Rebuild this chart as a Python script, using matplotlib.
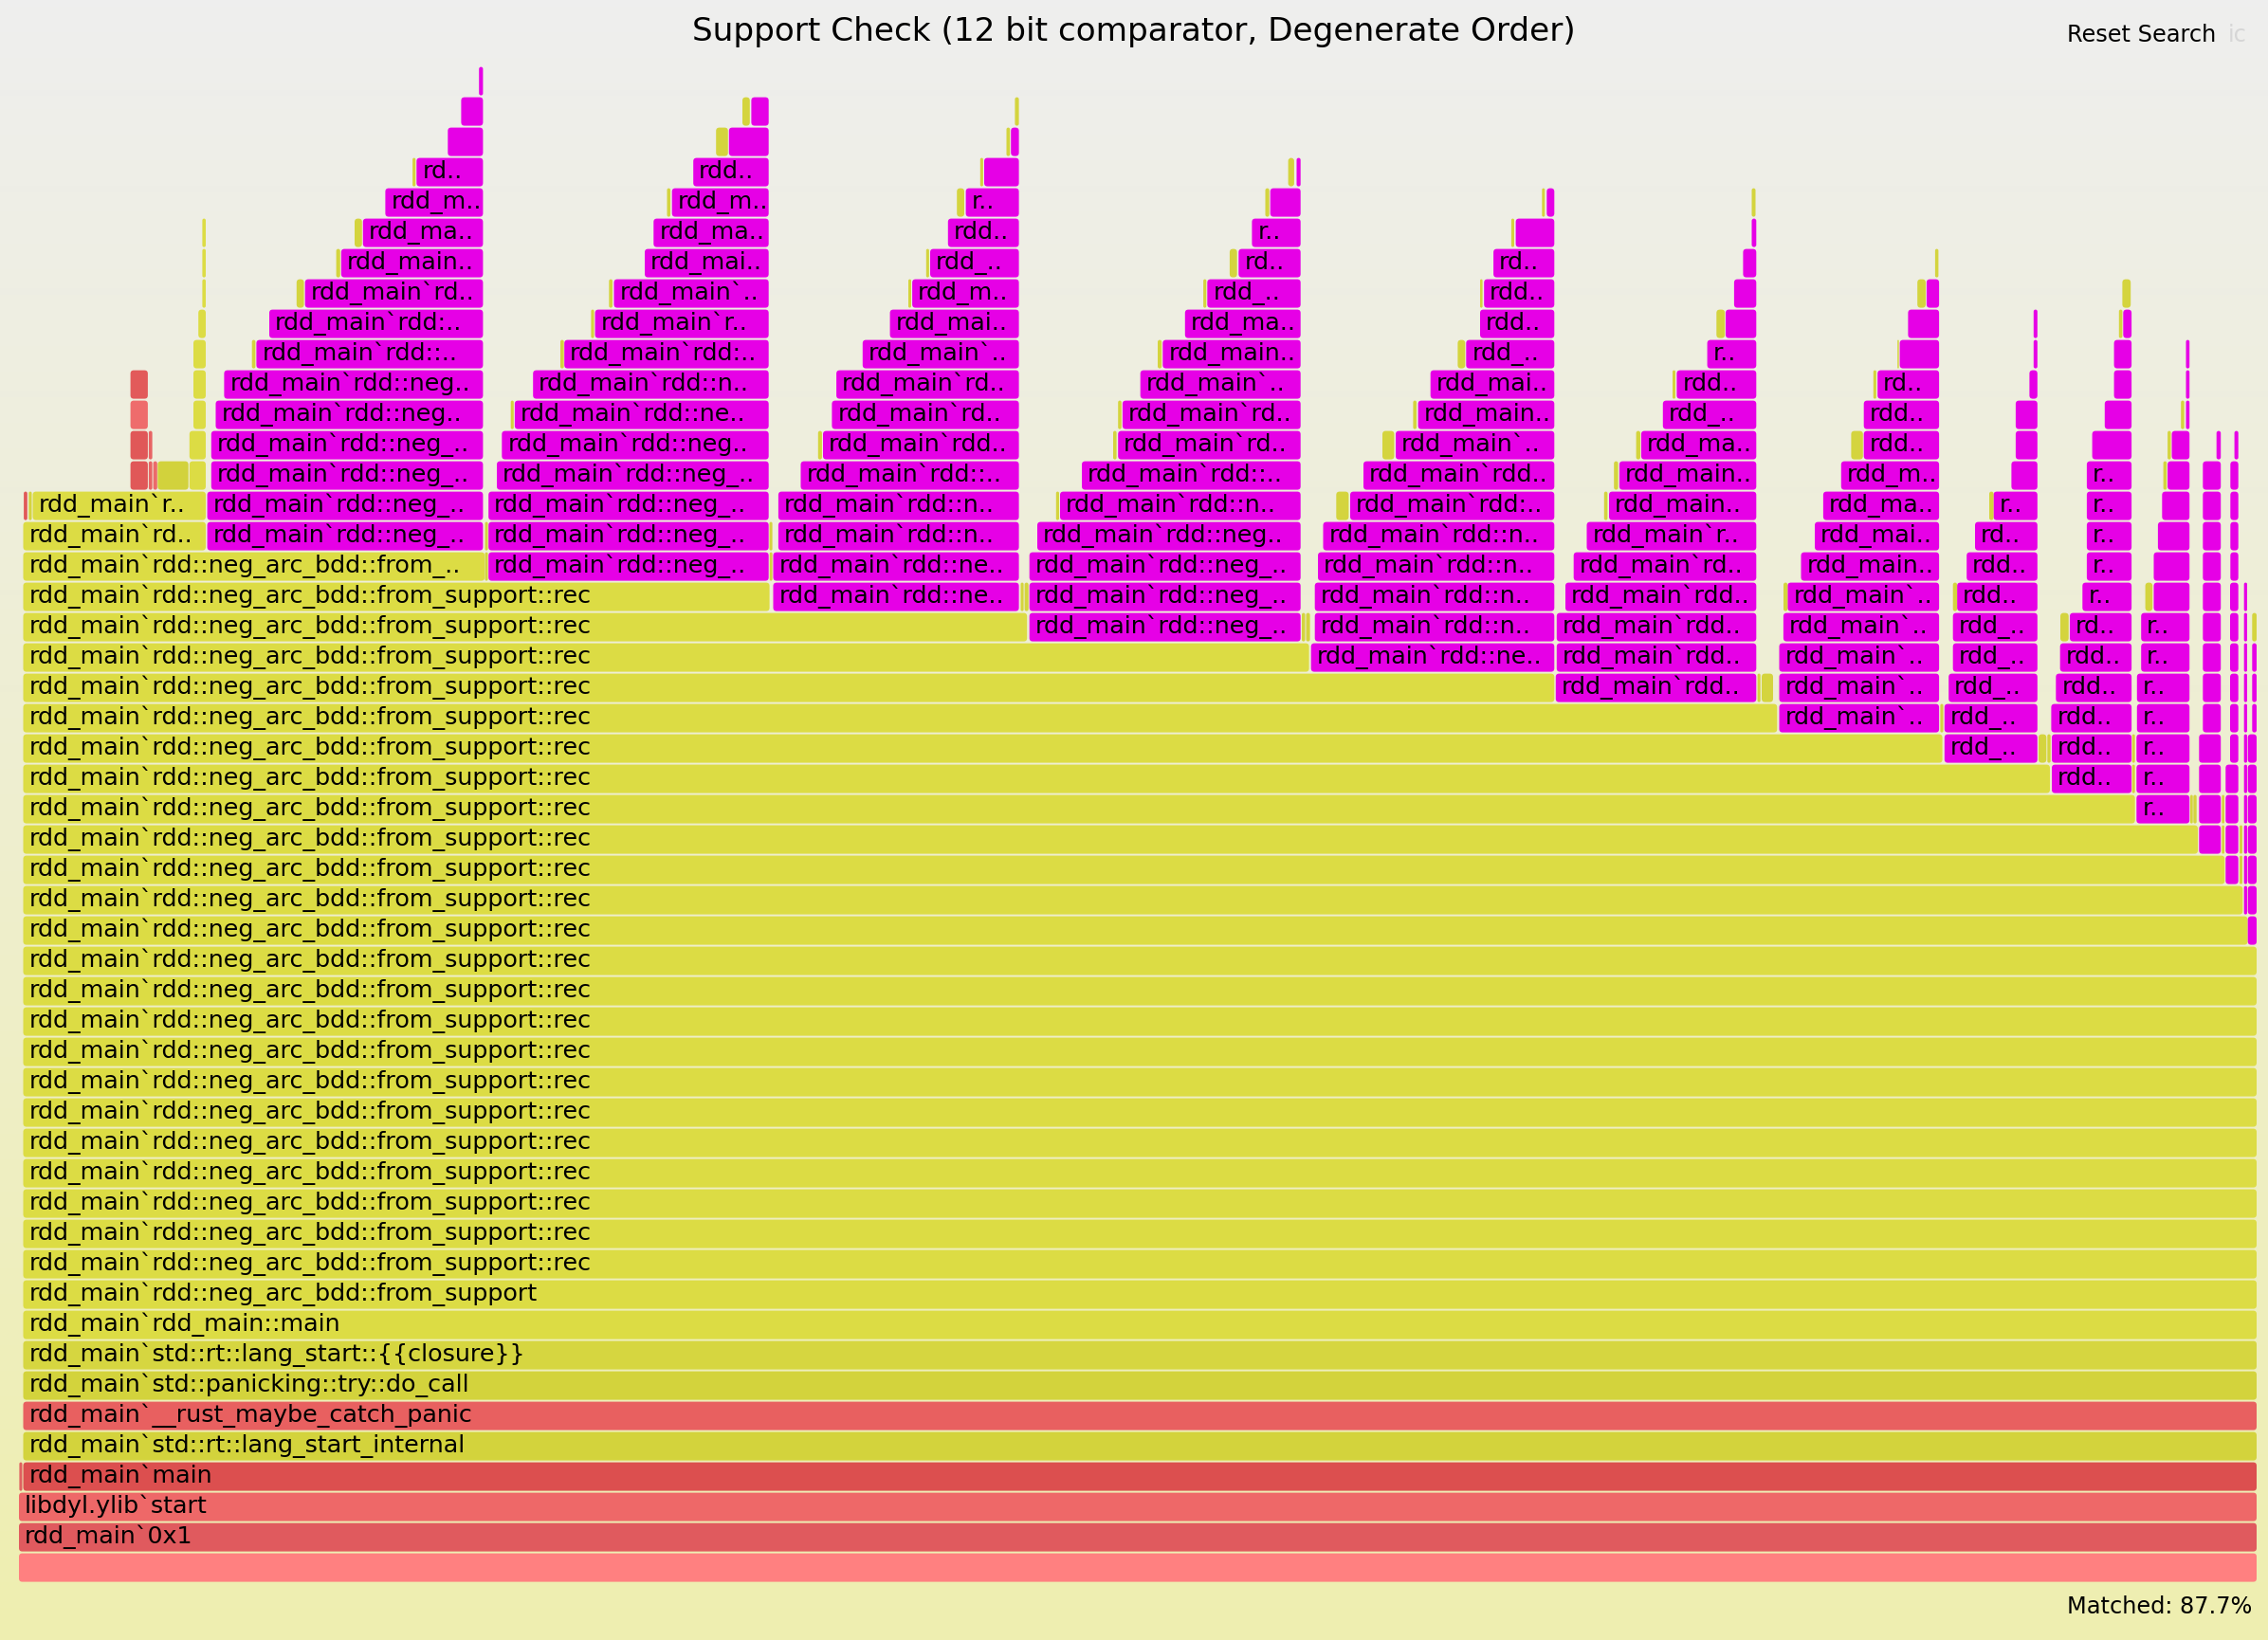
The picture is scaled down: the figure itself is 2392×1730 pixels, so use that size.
import numpy as np
import matplotlib
matplotlib.use("Agg")
import matplotlib.pyplot as plt
from matplotlib.patches import FancyBboxPatch

# ---- data (x in samples, 2360 samples in total; depth = stack level) ----
total_samples = 2360

base_names = ["", "rdd_main`0x1", "libdyl.ylib`start", "rdd_main`main",
              "rdd_main`std::rt::lang_start_internal",
              "rdd_main`__rust_maybe_catch_panic",
              "rdd_main`std::panicking::try::do_call",
              "rdd_main`std::rt::lang_start::{{closure}}",
              "rdd_main`rdd_main::main",
              "rdd_main`rdd::neg_arc_bdd::from_support"]
base_start = [0, 0, 0, 4.5, 4.5, 4.5, 4.5, 4.5, 4.5, 4.5]
base_colors = ["#ff8080", "#e05a5e", "#ee6868", "#dc4f4f", "#d3d33c",
               "#e86060", "#d3d33c", "#d6d640", "#dcdc44", "#dcdc44"]

rec_name = "rdd_main`rdd::neg_arc_bdd::from_support::rec"
rec_depths = list(range(10, 45))
rec_start = [4.5, 4.5, 4.5, 4.5, 4.5, 4.5, 4.5, 4.5, 4.5, 4.5, 4.5, 4.5, 4.5,
             4.5, 4.5, 4.5, 4.5, 4.5, 4.5, 4.5, 4.5, 4.5, 4.5, 4.5, 4.5,
             14.5, 179.8, 179.8, 184, 184, 184, 189.2, 193.4, 193.4, 193.4]
rec_end = [2360, 2360, 2360, 2360, 2360, 2360, 2360, 2360, 2360, 2360, 2360,
           2350.5, 2345.3, 2326.3, 2298, 2231.7, 2142, 2028.6, 1854.3,
           1619.3, 1360.6, 1063.2, 791.6, 491.2,
           197, 197, 197, 197, 197, 197, 197, 197, 197, 197, 197]

# search-matched towers: base depth, right edge, left edge per level
match_name = "rdd_main`rdd::neg_arc_bdd::from_support::rec::{{closure}}"
tower_base = [34, 33, 32, 31, 30, 29, 28, 27, 26, 25, 24, 23, 22, 21]
tower_right = [489.4, 790.7, 1054.6, 1351.7, 1619.3, 1832.3, 2025.1, 2128.8,
               2228.1, 2289.2, 2322.2, 2340.7, 2350, 2360]
tower_lefts = [
    [198.6, 198.6, 202.8, 202.8, 207.5, 216.4, 250.4, 264, 301.7, 339.8,
     362.8, 386.4, 419.3, 452.3, 466.4, 485.2],
    [495.2, 495.2, 495.2, 504, 509.3, 522.9, 542.2, 575.2, 607.6, 627.5,
     660, 669.3, 688.7, 711.2, 748.8, 772.4],
    [795.5, 795.5, 800.9, 800.9, 824.5, 848, 857.4, 862.1, 889.8, 918.6,
     942.1, 961, 979.8, 998.6, 1018, 1046.2],
    [1065.7, 1065.7, 1065.7, 1074, 1098, 1121, 1159.2, 1163.9, 1182.7,
     1206.3, 1229.8, 1253.3, 1286.3, 1300.4, 1319.7, 1347.5],
    [1362.7, 1366.7, 1366.7, 1370, 1375.5, 1404, 1418, 1452, 1475.6, 1488.7,
     1526.3, 1541, 1545.2, 1555.1, 1578.6, 1611.3],
    [1620.8, 1621.8, 1621.8, 1631, 1639.7, 1653.5, 1677, 1687.9, 1710.9,
     1733.8, 1748.4, 1780.6, 1800, 1808.9, 1818.4, 1827.5],
    [1856.5, 1856.5, 1856.5, 1860.9, 1865.3, 1879.5, 1894, 1902.9, 1921.8,
     1945.7, 1945.7, 1960.2, 1983.6, 1992.4, 2011.9],
    [2030.8, 2030.8, 2035.2, 2039.7, 2039.7, 2044.1, 2054.2, 2063, 2082.5,
     2101.4, 2105.9, 2105.9, 2120.4, 2124.8, 2124.8],
    [2144, 2144, 2143.4, 2148.3, 2152.7, 2163, 2176.3, 2180.9, 2180.9,
     2180.9, 2180.9, 2186.6, 2199.8, 2209.6, 2209.6, 2219.3],
    [2233.3, 2233.3, 2233.3, 2233.8, 2233.8, 2238.2, 2238.2, 2251.5, 2251.5,
     2255.9, 2260.3, 2266.1, 2270.5, 2285.5, 2285.5, 2285.5],
    [2299.3, 2299.3, 2299.3, 2299.3, 2303.3, 2303.3, 2303.3, 2303.3, 2303.3,
     2303.3, 2303.3, 2303.3, 2303.3, 2317.7],
    [2327.3, 2327.3, 2327.3, 2327.3, 2332, 2332, 2332, 2332, 2332, 2332,
     2332.3, 2332.3, 2332.3, 2332.3, 2336.6],
    [2346.7, 2346.7, 2346.7, 2346.7, 2346.7, 2346.7, 2346.7, 2346.7, 2346.7,
     2346.7, 2346.7],
    [2350.7, 2350.7, 2350.7, 2350.7, 2350.7, 2350.7, 2350.7, 2355.3, 2355.3,
     2355.3],
]

# unmatched small frames (depth, start, end)
other_frames = [
    (35, 10.3, 13.5), (33, 491.5, 494.6), (34, 491.5, 494.6),
    (40, 245.7, 249.4), (42, 292.8, 300.6), (43, 334.6, 338.8),
    (44, 354, 361.8), (46, 415.1, 418.3),
    (38, 518.7, 521.8), (40, 571, 574.7), (41, 603.4, 606.6),
    (42, 622.3, 626), (45, 683.5, 687.1), (47, 735.2, 747.8),
    (48, 763, 770.8),
    (33, 791.7, 794.6), (34, 791.5, 794.6), (37, 842.8, 846.9),
    (42, 938, 941), (43, 956.8, 959.9), (45, 989.2, 997),
    (46, 1013.8, 1016.9), (47, 1041.5, 1045.2), (48, 1050.4, 1054.6),
    (32, 1056.5, 1059.6), (32, 1060.6, 1064.7),
    (35, 1093.8, 1097), (37, 1154, 1157.6), (38, 1159.2, 1162.8),
    (40, 1201, 1205.2), (42, 1249.1, 1252.3), (43, 1276.9, 1284.7),
    (45, 1314.5, 1318.7), (46, 1338.6, 1344.9),
    (31, 1353, 1356.5), (31, 1357.5, 1361.6),
    (35, 1389.3, 1402.4), (37, 1438, 1450.5), (38, 1470.4, 1474),
    (40, 1517.4, 1525.3), (42, 1541, 1543.6), (44, 1573.9, 1577),
    (45, 1606.3, 1609.3),
    (35, 1671.8, 1675.4), (36, 1682.2, 1686.6), (37, 1705.6, 1710),
    (39, 1744, 1747), (41, 1790.3, 1799.2), (45, 1827.5, 1831.5),
    (29, 1833.6, 1836.7), (29, 1838, 1850),
    (28, 2026.4, 2029.5), (32, 1861, 1865.3), (37, 1932.4, 1944.8),
    (39, 1955.8, 1958.9), (40, 1981.2, 1982.7), (42, 2002.2, 2011),
    (43, 2020.9, 2024.4),
    (27, 2130, 2138.3), (27, 2139.3, 2142.7), (32, 2039.7, 2044.1),
    (35, 2078, 2082.5),
    (26, 2228.7, 2231.7), (27, 2228.7, 2231.7), (31, 2153, 2161.7),
    (41, 2214.8, 2218.4), (42, 2218.4, 2227.2),
    (25, 2290, 2292.7), (25, 2293.3, 2296.7), (32, 2242.6, 2250.2),
    (36, 2261.6, 2265.2), (37, 2266.1, 2269.6), (38, 2280.2, 2283.7),
    (24, 2323.3, 2326), (25, 2323.3, 2326),
    (23, 2342, 2345), (24, 2342, 2345),
    (31, 2355.3, 2360),
]
other_dark = [(36, 146.3, 178.7)]
red_frames = [(3, 0.4, 3.5), (35, 5.1, 8.8),
              (36, 117.6, 135.9), (37, 117.6, 135.9), (38, 117.6, 135.9),
              (39, 117.6, 135.9), (36, 136.9, 140.6), (37, 136.9, 140.6),
              (36, 141.6, 145.8)]
red_colors = ["#e06060", "#e05858", "#e05858", "#e05858", "#ee6c6c",
              "#e25a5a", "#e86464", "#e86464", "#ec6a6a"]

title = "Support Check (12 bit comparator, Degenerate Order)"
matched_text = "Matched: 87.7%"

# ---- layout ----
W, H = 2392, 1730
row_px = 32
char_px = 14.2
MAGENTA = "#e600e6"
REC_YELLOW = "#dcdc44"
OTHER_YELLOW = "#d4d43e"
FRAME_FS = 18.3

fig = plt.figure(figsize=(W / 100, H / 100), dpi=100)
ax = fig.add_axes([0, 0, 1, 1])
ybot = -76.4 / row_px
ytop = (H - 76.4) / row_px
ax.set_xlim(-20, W - 20)
ax.set_ylim(ybot, ytop)
ax.axis("off")

# background gradient
top_c = np.array([238, 238, 238]) / 255.0
bot_c = np.array([238, 238, 176]) / 255.0
t = np.linspace(0, 1, 256)[:, None]
grad = (top_c * (1 - t) + bot_c * t)[:, None, :]
ax.imshow(grad, extent=[-20, W - 20, ybot, ytop], aspect="auto", zorder=0)


def fit_label(name, width):
    chars = int(width / char_px)
    if chars < 3 or not name:
        return ""
    if chars < len(name):
        return name[:chars - 2] + ".."
    return name


def draw_frame(depth, start, end, color, name=""):
    w = end - start
    if w <= 0:
        return
    h = 30.0 / row_px
    r = min(3.5, w / 2.0)
    box = FancyBboxPatch((start, depth - h / 2), w, h,
                         boxstyle="round,pad=0,rounding_size=%.3f" % r,
                         mutation_aspect=1.0 / row_px,
                         fc=color, ec="none", zorder=2)
    ax.add_patch(box)
    label = fit_label(name, w)
    if label:
        ax.text(start + 6, depth - 6.5 / row_px, label, ha="left",
                va="baseline", fontsize=FRAME_FS, family="DejaVu Sans",
                color="black", zorder=3)


for d, (name, s, c) in enumerate(zip(base_names, base_start, base_colors)):
    draw_frame(d, s, total_samples, c, name)

for d, s, e in zip(rec_depths, rec_start, rec_end):
    draw_frame(d, s, e, REC_YELLOW, rec_name)

for base, right, lefts in zip(tower_base, tower_right, tower_lefts):
    for i, left in enumerate(lefts):
        draw_frame(base + i, left, right, MAGENTA, match_name)

for d, s, e in other_frames:
    draw_frame(d, s, e, OTHER_YELLOW)
for d, s, e in other_dark:
    draw_frame(d, s, e, "#d2d23c")
for (d, s, e), c in zip(red_frames, red_colors):
    draw_frame(d, s, e, c)

fig.text(1196 / W, 1 - 34 / H, title, ha="center", va="center",
         fontsize=24.7, family="DejaVu Sans", color="black")
fig.text(2180 / W, 1 - 37 / H, "Reset Search", ha="left", va="center",
         fontsize=17.3, family="DejaVu Sans", color="black")
fig.text(2350 / W, 1 - 37 / H, "ic", ha="left", va="center",
         fontsize=17.3, family="DejaVu Sans", color="#d6d6d6")
fig.text(2180 / W, 1 - 1695 / H, matched_text, ha="left", va="center",
         fontsize=17.3, family="DejaVu Sans", color="black")

fig.savefig("out.png", dpi=100)
